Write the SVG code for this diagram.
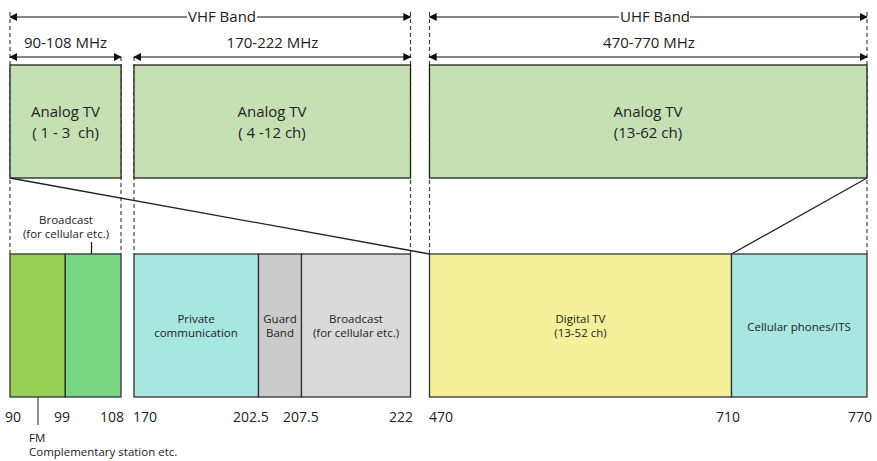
<svg xmlns="http://www.w3.org/2000/svg" width="877" height="461" viewBox="0 0 877 461">
  <defs>
    <marker id="ah" viewBox="0 0 10 10" refX="9" refY="5" markerWidth="8" markerHeight="8" markerUnits="userSpaceOnUse" orient="auto-start-reverse">
      <path d="M0,0 L10,5 L0,10 Z" fill="#111"/>
    </marker>
    <style>
      text { font-family: "Open Sans", "Noto Sans", "DejaVu Sans", sans-serif; fill: #222; }
      .big { font-size: 15px; }
      .tick { font-size: 14px; }
      .small { font-size: 11.5px; }
      .mid { text-anchor: middle; }
      .dash { stroke: #444; stroke-width: 1.2; stroke-dasharray: 4 3; fill: none; }
      .arrow { stroke: #111; stroke-width: 1.2; fill: none; marker-end: url(#ah); }
      .box { stroke: #222; stroke-width: 1.3; }
      .lbox { stroke: #333; stroke-width: 1.3; }
      .line { stroke: #222; stroke-width: 1.3; fill: none; }
    </style>
  </defs>
  <rect width="877" height="461" fill="#fff"/>

  <!-- dashed band boundaries -->
  <g id="guides">
    <line class="dash" x1="10" y1="12" x2="10" y2="254"/>
    <line class="dash" x1="121" y1="57" x2="121" y2="254"/>
    <line class="dash" x1="134" y1="57" x2="134" y2="254"/>
    <line class="dash" x1="410.5" y1="12" x2="410.5" y2="254"/>
    <line class="dash" x1="429.5" y1="12" x2="429.5" y2="254"/>
    <line class="dash" x1="867" y1="12" x2="867" y2="254"/>
  </g>

  <!-- band span arrows -->
  <g id="spans">
    <line class="arrow" x1="187" y1="17" x2="10" y2="17"/>
    <line class="arrow" x1="257" y1="17" x2="410.5" y2="17"/>
    <text class="big mid" x="222" y="22">VHF Band</text>
    <line class="arrow" x1="619" y1="17" x2="429.5" y2="17"/>
    <line class="arrow" x1="690" y1="17" x2="867" y2="17"/>
    <text class="big mid" x="655" y="22">UHF Band</text>

    <line class="arrow" x1="60" y1="57" x2="10" y2="57"/>
    <line class="arrow" x1="60" y1="57" x2="121" y2="57"/>
    <text class="big mid" x="65.5" y="48">90-108 MHz</text>
    <line class="arrow" x1="272" y1="57" x2="134" y2="57"/>
    <line class="arrow" x1="272" y1="57" x2="410.5" y2="57"/>
    <text class="big mid" x="272.5" y="48">170-222 MHz</text>
    <line class="arrow" x1="648" y1="57" x2="429.5" y2="57"/>
    <line class="arrow" x1="648" y1="57" x2="867" y2="57"/>
    <text class="big mid" x="649" y="48">470-770 MHz</text>
  </g>

  <!-- current allocation -->
  <g id="analog-1-3">
    <rect class="box" x="10" y="65" width="111" height="113" fill="#C6E0B4"/>
    <text class="big mid" x="65.5" y="117">Analog TV</text>
    <text class="big mid" x="65.5" y="138" xml:space="preserve">( 1 - 3  ch)</text>
  </g>
  <g id="analog-4-12">
    <rect class="box" x="134" y="65" width="276.5" height="113" fill="#C6E0B4"/>
    <text class="big mid" x="272" y="117">Analog TV</text>
    <text class="big mid" x="272" y="138" xml:space="preserve">( 4 -12 ch)</text>
  </g>
  <g id="analog-13-62">
    <rect class="box" x="429.5" y="65" width="437.5" height="113" fill="#C6E0B4"/>
    <text class="big mid" x="648" y="117">Analog TV</text>
    <text class="big mid" x="648" y="138">(13-62 ch)</text>
  </g>

  <!-- projection lines -->
  <g id="connectors">
    <line class="line" x1="10" y1="178" x2="429.5" y2="254"/>
    <line class="line" x1="867" y1="178" x2="731.5" y2="254"/>
    <line class="line" x1="91.5" y1="242" x2="91.5" y2="279"/>
    <line stroke="#555" stroke-width="1.3" x1="38" y1="375" x2="38" y2="425"/>
  </g>

  <!-- reallocation -->
  <g id="fm">
    <rect class="lbox" x="10" y="254" width="55.3" height="143" fill="#97CE55"/>
  </g>
  <g id="broadcast-vhf-low">
    <rect class="lbox" x="65.3" y="254" width="55.7" height="143" fill="#79D685"/>
  </g>
  <g id="private">
    <rect class="lbox" x="134" y="254" width="124.5" height="143" fill="#A8E6E0"/>
    <text class="small mid" x="196" y="323">Private</text>
    <text class="small mid" x="196" y="337">communication</text>
  </g>
  <g id="guard">
    <rect class="lbox" x="258.5" y="254" width="43" height="143" fill="#CBCBCB"/>
    <text class="small mid" x="280" y="323">Guard</text>
    <text class="small mid" x="280" y="337">Band</text>
  </g>
  <g id="broadcast-vhf-high">
    <rect class="lbox" x="301.5" y="254" width="109" height="143" fill="#DADADA"/>
    <text class="small mid" x="356" y="323">Broadcast</text>
    <text class="small mid" x="356" y="337">(for cellular etc.)</text>
  </g>
  <g id="digital-tv">
    <rect class="lbox" x="429.5" y="254" width="302" height="143" fill="#F5F19A"/>
    <text class="small mid" x="580.5" y="323">Digital TV</text>
    <text class="small mid" x="580.5" y="337">(13-52 ch)</text>
  </g>
  <g id="cellular">
    <rect class="lbox" x="731.5" y="254" width="135.5" height="143" fill="#A8E6E0"/>
    <text class="small mid" x="799" y="331">Cellular phones/ITS</text>
  </g>

  <!-- callouts -->
  <g id="callouts">
    <text class="small mid" x="66" y="223.5">Broadcast</text>
    <text class="small mid" x="66" y="238">(for cellular etc.)</text>
    <text class="small" x="29" y="442">FM</text>
    <text class="small" x="29" y="456">Complementary station etc.</text>
  </g>

  <!-- frequency ticks -->
  <g id="ticks">
    <text class="tick" x="5" y="422">90</text>
    <text class="tick" x="54" y="422">99</text>
    <text class="tick" x="100" y="422">108</text>
    <text class="tick" x="133" y="422">170</text>
    <text class="tick" x="233" y="422">202.5</text>
    <text class="tick" x="283" y="422">207.5</text>
    <text class="tick" x="389" y="422">222</text>
    <text class="tick" x="429" y="422">470</text>
    <text class="tick" x="716" y="422">710</text>
    <text class="tick" x="848" y="422">770</text>
  </g>
</svg>
